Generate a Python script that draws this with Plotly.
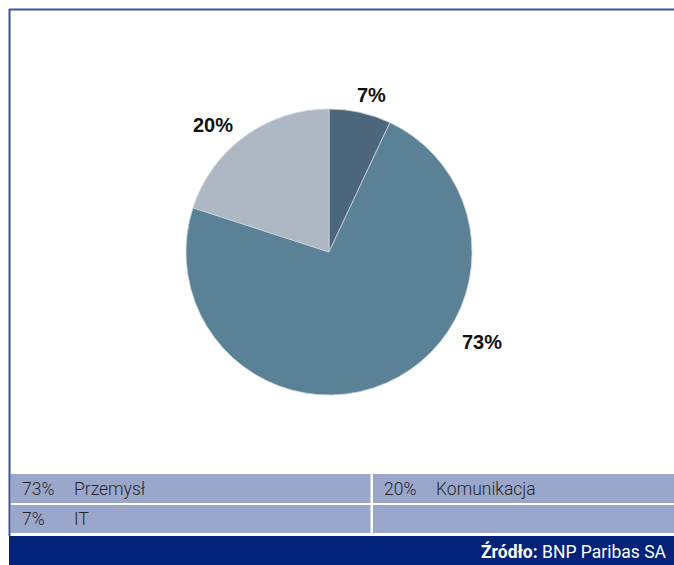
import plotly.graph_objects as go

# ---- data ----
categories = ["IT", "Przemysł", "Komunikacja"]
values = [7, 73, 20]
colors = ["#4c677c", "#5a8196", "#adb8c4"]
source_bold = "Źródło:"
source_text = "BNP Paribas SA"

W, H = 674, 565

def px_x(x):
    return x / W

def px_y(y):
    return 1 - y / H

total = sum(values)
pct_labels = [f"{round(v / total * 100)}%" for v in values]

fig = go.Figure()

cx, cy, r = 329, 252, 143
fig.add_trace(go.Pie(
    labels=categories,
    values=values,
    sort=False,
    direction="clockwise",
    rotation=0,
    textinfo="none",
    hoverinfo="label+percent",
    marker=dict(colors=colors, line=dict(color="#c9d3db", width=0.8)),
    showlegend=False,
    domain=dict(x=[px_x(cx - r), px_x(cx + r)], y=[px_y(cy + r), px_y(cy - r)]),
))

shapes = []
annotations = []

# frame lines
border = "#3b509c"
shapes.append(dict(type="line", xref="paper", yref="paper",
                   x0=px_x(9), x1=1, y0=px_y(9.5), y1=px_y(9.5),
                   line=dict(color=border, width=2)))
shapes.append(dict(type="line", xref="paper", yref="paper",
                   x0=px_x(9.5), x1=px_x(9.5), y0=px_y(9), y1=px_y(536),
                   line=dict(color=border, width=2)))

# pie value labels (positions are styling)
label_pos = {"IT": (371, 95), "Przemysł": (482, 342), "Komunikacja": (213, 125)}
for cat, lab in zip(categories, pct_labels):
    lx, ly = label_pos[cat]
    annotations.append(dict(x=px_x(lx), y=px_y(ly), xref="paper", yref="paper",
                            text=f"<b>{lab}</b>", showarrow=False, xanchor="center", yanchor="middle",
                            font=dict(family="Liberation Sans, Arial", size=20, color="#111111")))

# legend table
cell_color = "#9ba6cb"
rows = [(474, 503), (505, 533)]
cols = [(10.5, 370.5), (373, 674)]
order = sorted(range(len(values)), key=lambda i: -values[i])
cells = [(0, 0), (0, 1), (1, 0), (1, 1)]
for (ri, ci) in cells:
    y0, y1 = rows[ri]
    x0, x1 = cols[ci]
    shapes.append(dict(type="rect", xref="paper", yref="paper",
                       x0=px_x(x0), x1=px_x(x1), y0=px_y(y1), y1=px_y(y0),
                       fillcolor=cell_color, line=dict(width=0), layer="below"))
tfont = dict(family="Roboto", size=17.5, color="#262626", weight=300)
for k, idx in enumerate(order):
    ri, ci = cells[k]
    y0, y1 = rows[ri]
    x0, _ = cols[ci]
    ym = px_y((y0 + y1) / 2)
    annotations.append(dict(x=px_x(x0 + 9), y=ym, xref="paper", yref="paper",
                            text=pct_labels[idx], showarrow=False, xanchor="left", yanchor="middle",
                            font=tfont))
    annotations.append(dict(x=px_x(x0 + 61), y=ym, xref="paper", yref="paper",
                            text=categories[idx], showarrow=False, xanchor="left", yanchor="middle",
                            font=tfont))

# footer
shapes.append(dict(type="rect", xref="paper", yref="paper",
                   x0=px_x(9), x1=1, y0=0, y1=px_y(536),
                   fillcolor="#03227a", line=dict(width=0), layer="below"))
annotations.append(dict(x=px_x(669), y=px_y(551), xref="paper", yref="paper",
                        text=f"<b>{source_bold}</b> {source_text}", showarrow=False,
                        xanchor="right", yanchor="middle",
                        font=dict(family="Roboto", size=17.5, color="white")))

fig.update_layout(
    width=W, height=H,
    margin=dict(l=0, r=0, t=0, b=0),
    paper_bgcolor="white",
    plot_bgcolor="white",
    shapes=shapes,
    annotations=annotations,
)

fig.write_html("out.html")
